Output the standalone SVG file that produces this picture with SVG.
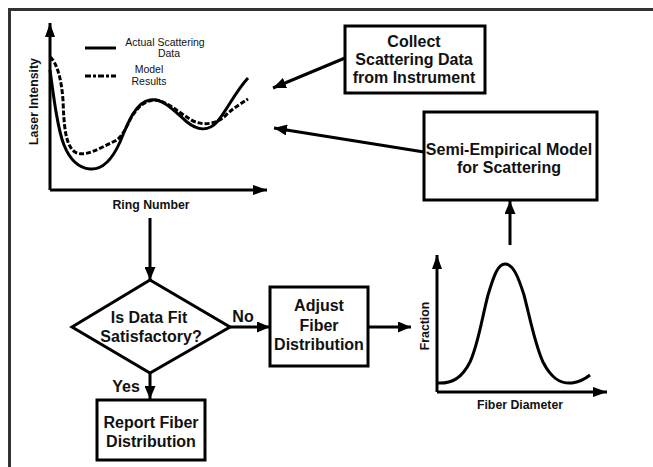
<svg xmlns="http://www.w3.org/2000/svg" width="653" height="467" viewBox="0 0 653 467">
<style>
.bx{fill:#fff;stroke:#000;stroke-width:3}
.t{font-family:"Liberation Sans",Arial,sans-serif;font-weight:bold;font-size:16px;fill:#111;text-anchor:middle}
.ax{font-family:"Liberation Sans",Arial,sans-serif;font-weight:bold;font-size:12.3px;fill:#111;text-anchor:middle}
.lg{font-family:"Liberation Sans",Arial,sans-serif;font-size:10.5px;fill:#111;text-anchor:middle}
.c{fill:none;stroke:#000;stroke-width:3}
.ar{fill:none;stroke:#000;stroke-width:3;marker-end:url(#ah)}
.axl{fill:none;stroke:#000;stroke-width:3;marker-end:url(#axh)}
</style>
<defs>
<marker id="ah" markerUnits="userSpaceOnUse" markerWidth="13" markerHeight="11" refX="13" refY="5.5" orient="auto">
<path d="M0,0 L13,5.5 L0,11 z" fill="#000"/>
</marker>
<marker id="axh" markerUnits="userSpaceOnUse" markerWidth="14" markerHeight="10" refX="14" refY="5" orient="auto">
<path d="M0,0 L14,5 L0,10 z" fill="#000"/>
</marker>
</defs>
<rect width="653" height="467" fill="#fff"/>
<path d="M9.5,467 V9.5 H653" fill="none" stroke="#333" stroke-width="3"/>

<g id="scatter-plot">
<path class="axl" d="M50,190 V23"/>
<path class="axl" d="M50,190 H267"/>
<path class="c" d="M50,70 C54,100 58,130 64,145 C70,160 78,168 90,169 C102,170 112,160 120,142 C128,122 136,102 150,100 C164,98 175,112 187,122 C197,130 208,132 217,122 C226,112 235,92 248,78"/>
<path class="c" stroke-width="2.5" stroke-dasharray="5,2" d="M50,57 C56,62 61,75 63,100 C64,125 65,145 75,152 C84,158 100,148 115,141 C125,136 128,120 135,112 C141,104 148,100 155,100 C165,100 178,112 193,121 C205,126 218,124 227,114 C235,107 242,103 248,99"/>
<path class="c" d="M85,48 H116"/>
<path class="c" stroke-width="2.5" stroke-dasharray="6,2,3,2" d="M85,76 H116"/>
<text class="lg" x="165" y="46">Actual Scattering</text>
<text class="lg" x="169" y="57">Data</text>
<text class="lg" x="149" y="73">Model</text>
<text class="lg" x="149" y="85">Results</text>
<text class="ax" x="151" y="209">Ring Number</text>
<text class="ax" transform="translate(37.5,101.5) rotate(-90)">Laser Intensity</text>
</g>

<g id="collect">
<rect class="bx" x="345" y="26" width="140" height="67"/>
<text class="t" x="414" y="47">Collect</text>
<text class="t" x="414" y="65">Scattering Data</text>
<text class="t" x="414" y="83">from Instrument</text>
</g>

<g id="model">
<rect class="bx" x="424" y="112" width="173" height="88"/>
<text class="t" x="509" y="155">Semi-Empirical Model</text>
<text class="t" x="509" y="173">for Scattering</text>
</g>

<g id="decision">
<path class="bx" d="M150,280 L230,327 L150,373 L72,327 z"/>
<text class="t" x="149" y="323">Is Data Fit</text>
<text class="t" x="151" y="342">Satisfactory?</text>
</g>

<g id="adjust">
<rect class="bx" x="270" y="287" width="98" height="79"/>
<text class="t" x="319" y="311">Adjust</text>
<text class="t" x="319" y="331">Fiber</text>
<text class="t" x="319" y="350">Distribution</text>
</g>

<g id="report">
<rect class="bx" x="97" y="400" width="108" height="60"/>
<text class="t" x="151" y="428">Report Fiber</text>
<text class="t" x="151" y="447">Distribution</text>
</g>

<g id="distribution-plot">
<path class="axl" d="M437,392 V255"/>
<path class="axl" d="M437,392 H607"/>
<path class="c" d="M437,383 C452,384 462,378 470,362 C478,345 482,318 488,295 C494,275 498,264 505,264 C513,264 518,276 524,295 C530,318 535,345 543,362 C551,378 560,384 572,383 C580,382 585,379 590,375"/>
<text class="ax" transform="translate(429,326) rotate(-90)">Fraction</text>
<text class="ax" x="520" y="409">Fiber Diameter</text>
</g>

<g id="connectors">
<path class="ar" d="M345,58 L273,88"/>
<path class="ar" d="M424,152 L274,128"/>
<path class="ar" d="M510,245 V201"/>
<path class="ar" d="M150,218 V280"/>
<path class="ar" d="M230,327 H270"/>
<path class="ar" d="M150,373 V399"/>
<path class="ar" d="M368,327 H411"/>
<text class="t" x="243" y="322">No</text>
<text class="t" x="126" y="392">Yes</text>
</g>
</svg>
